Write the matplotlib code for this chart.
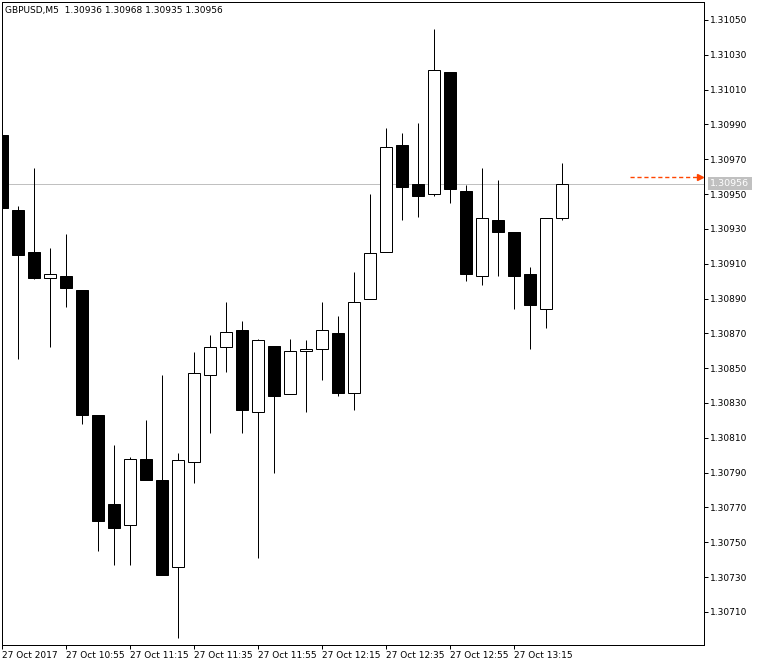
import numpy as np
import matplotlib
matplotlib.use("Agg")
import matplotlib.pyplot as plt

# GBPUSD M5 bars, 27 Oct 2017 10:35 .. 13:30
opens = [1.30984, 1.30941, 1.30917, 1.30902, 1.30903, 1.30895, 1.30823, 1.30772, 1.30760,
         1.30798, 1.30786, 1.30736, 1.30796, 1.30846, 1.30862, 1.30872, 1.30825, 1.30863,
         1.30835, 1.30860, 1.30861, 1.30870, 1.30836, 1.30890, 1.30917, 1.30978, 1.30956,
         1.30950, 1.31020, 1.30952, 1.30903, 1.30935, 1.30928, 1.30904, 1.30884, 1.30936]
highs = [1.30990, 1.30943, 1.30965, 1.30919, 1.30927, 1.30895, 1.30823, 1.30806, 1.30799,
         1.30820, 1.30846, 1.30801, 1.30859, 1.30869, 1.30888, 1.30877, 1.30867, 1.30863,
         1.30867, 1.30866, 1.30888, 1.30880, 1.30905, 1.30950, 1.30988, 1.30985, 1.30991,
         1.31045, 1.31020, 1.30955, 1.30965, 1.30958, 1.30928, 1.30908, 1.30936, 1.30968]
lows = [1.30940, 1.30855, 1.30901, 1.30862, 1.30885, 1.30818, 1.30745, 1.30737, 1.30737,
        1.30786, 1.30731, 1.30695, 1.30784, 1.30813, 1.30848, 1.30813, 1.30741, 1.30790,
        1.30835, 1.30825, 1.30843, 1.30834, 1.30826, 1.30890, 1.30917, 1.30935, 1.30937,
        1.30949, 1.30945, 1.30900, 1.30898, 1.30903, 1.30884, 1.30861, 1.30873, 1.30935]
closes = [1.30942, 1.30915, 1.30902, 1.30904, 1.30896, 1.30823, 1.30762, 1.30758, 1.30798,
          1.30786, 1.30731, 1.30797, 1.30847, 1.30862, 1.30871, 1.30826, 1.30866, 1.30834,
          1.30860, 1.30861, 1.30872, 1.30836, 1.30888, 1.30916, 1.30977, 1.30954, 1.30949,
          1.31021, 1.30953, 1.30904, 1.30936, 1.30928, 1.30903, 1.30886, 1.30936, 1.30956]

time_labels = ["27 Oct 2017", "27 Oct 10:55", "27 Oct 11:15", "27 Oct 11:35", "27 Oct 11:55",
               "27 Oct 12:15", "27 Oct 12:35", "27 Oct 12:55", "27 Oct 13:15"]
price_ticks = [1.30710, 1.30730, 1.30750, 1.30770, 1.30790, 1.30810, 1.30830, 1.30850, 1.30870,
               1.30890, 1.30910, 1.30930, 1.30950, 1.30970, 1.30990, 1.31010, 1.31030, 1.31050]
bid_price = 1.30956
ask_marker = 1.30960

W, H = 759, 666
px = 0.72  # one pixel in points

fig = plt.figure(figsize=(W / 100, H / 100), dpi=100)
ax = fig.add_axes([2 / W, (H - 645) / H, (704 - 2) / W, (645 - 2) / H])

x = np.arange(len(opens))
o = np.array(opens)
c = np.array(closes)

# wicks first, bodies on top
ax.vlines(x, lows, highs, color="black", linewidth=px, zorder=2)
up = c >= o
body_h = np.maximum(np.abs(c - o), 0.000012)
ax.bar(x[up], body_h[up], bottom=o[up], width=0.69, color="white",
       edgecolor="black", linewidth=px, zorder=3)
ax.bar(x[~up], body_h[~up], bottom=c[~up], width=0.69, color="black",
       edgecolor="black", linewidth=px, zorder=3)

# bid line and its label
ax.axhline(bid_price, color="#c0c0c0", linewidth=px, zorder=1)
ax.annotate("%.5f" % bid_price, xy=(1.0, bid_price), xycoords=("axes fraction", "data"),
            xytext=(4.5, 0), textcoords="offset points", va="center", ha="left",
            fontsize=6.8, color="white", zorder=5, annotation_clip=False,
            bbox=dict(boxstyle="square,pad=0.25", fc="#c0c0c0", ec="none"))

# dashed orange arrow at the right edge
ax.plot([39.25, 43.6], [ask_marker, ask_marker], color="#ff4500", linewidth=1.0,
        linestyle=(0, (3, 2)), zorder=4)
ax.plot([43.6], [ask_marker], marker=">", color="#ff4500", markersize=4.5, zorder=4)

ax.set_xlim(0, 43.875)
ax.set_ylim(1.306910, 1.310603)

ax.yaxis.tick_right()
ax.set_yticks(price_ticks)
ax.set_yticklabels(["%.5f" % p for p in price_ticks])
ax.set_xticks(np.arange(0, 4 * len(time_labels), 4))
ax.set_xticklabels(time_labels)
for lab in ax.get_xticklabels():
    lab.set_horizontalalignment("left")
ax.tick_params(axis="y", direction="out", length=3, width=px, pad=1.5, labelsize=6.5)
ax.tick_params(axis="x", direction="out", length=3, width=px, pad=1.5, labelsize=6.5)
for s in ax.spines.values():
    s.set_linewidth(px)
    s.set_color("black")

fig.text(5 / W, 1 - 11 / H, "GBPUSD,M5  1.30936 1.30968 1.30935 1.30956",
         fontsize=6.5, va="center", ha="left")

plt.savefig("out.png", dpi=100)
plt.close()
